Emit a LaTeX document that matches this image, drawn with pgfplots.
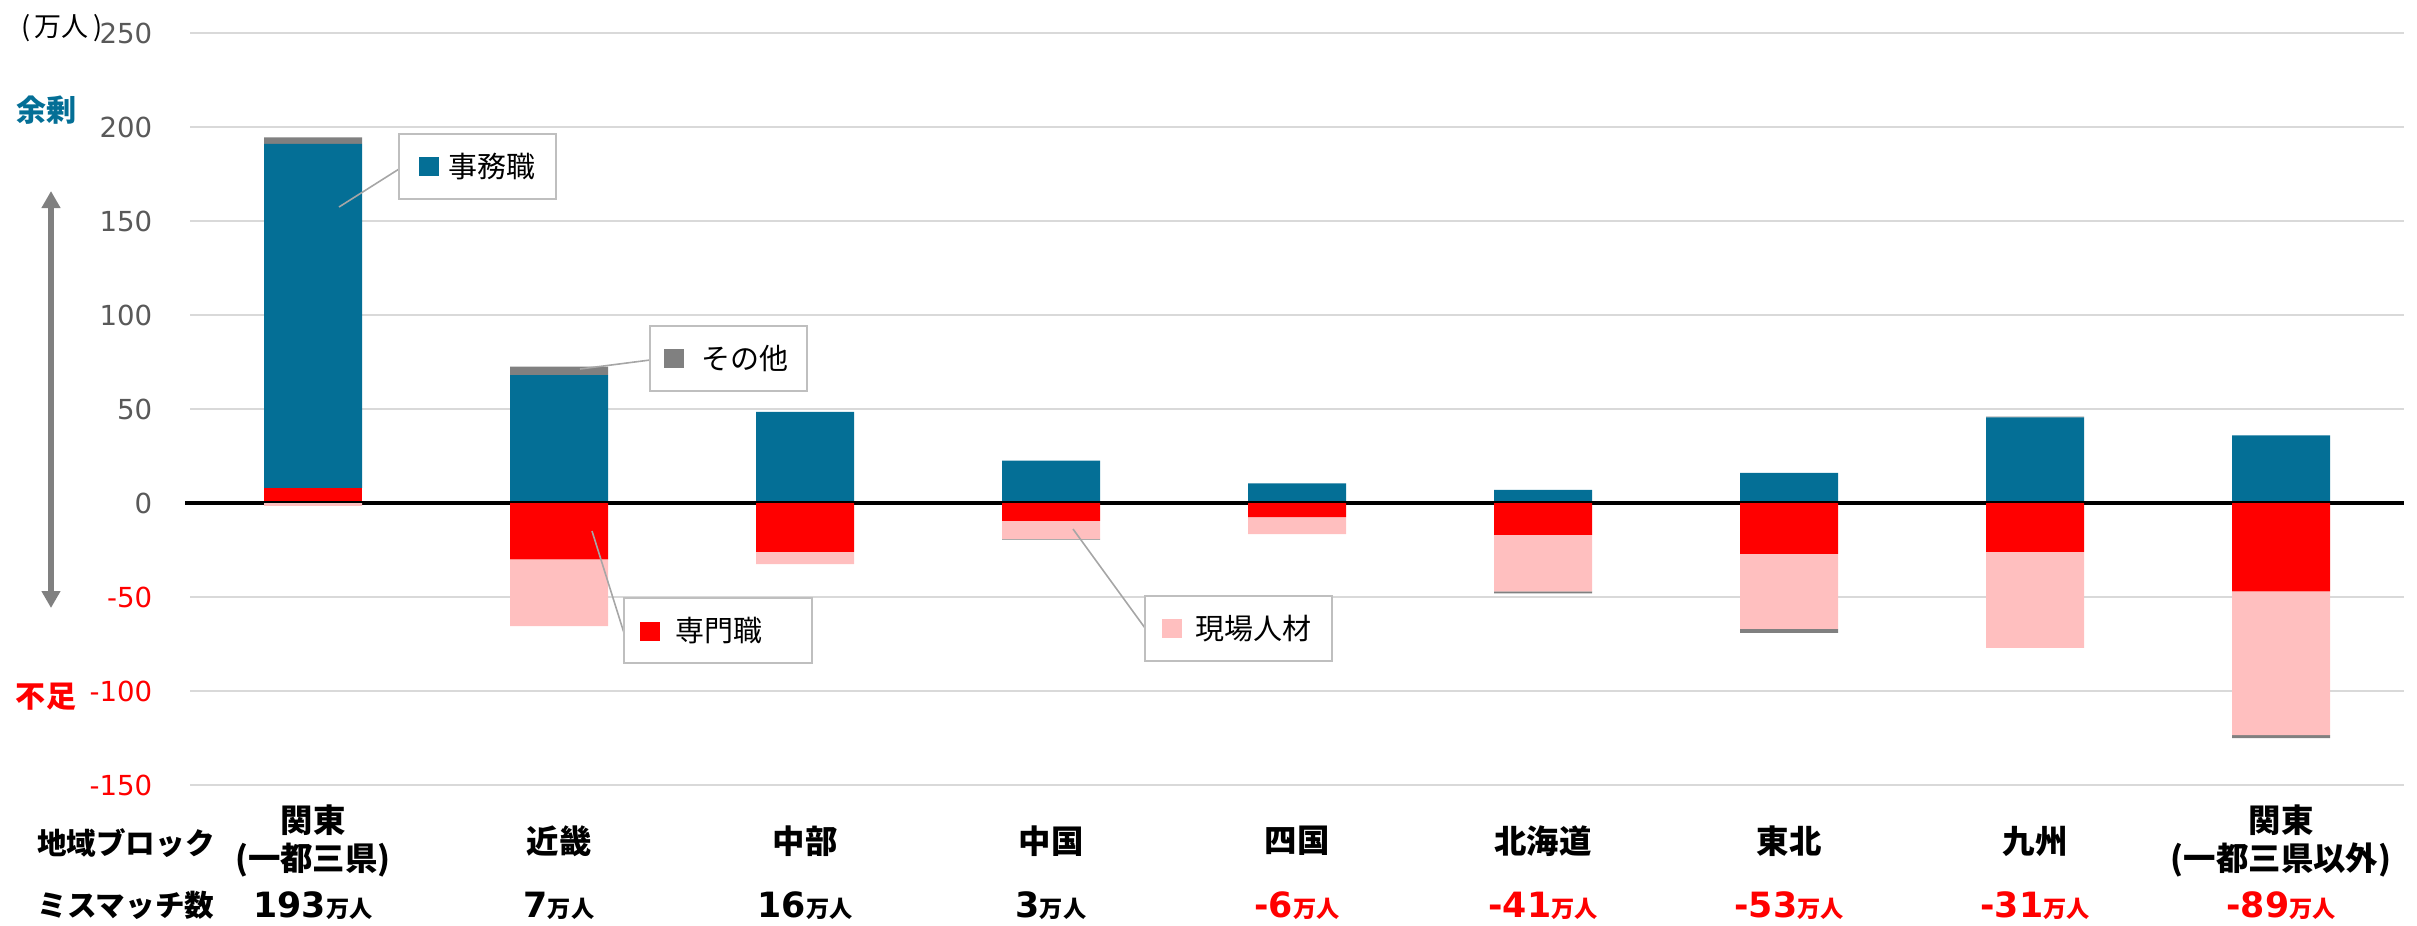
\documentclass[border=0pt]{standalone}
\usepackage{fontspec}
\usepackage{pgfplots}
\pgfplotsset{compat=1.18}
\usetikzlibrary{arrows.meta}
\setmainfont{DejaVu Sans}
\newfontfamily\cjk{Noto Sans CJK JP}
\newfontfamily\dv{DejaVu Sans}
\definecolor{blu}{HTML}{046F96}
\definecolor{rd}{HTML}{FF0000}
\definecolor{pk}{HTML}{FFBFBF}
\definecolor{gr}{HTML}{808080}
\definecolor{gridc}{HTML}{D9D9D9}
\definecolor{tickc}{HTML}{595959}
\definecolor{bx}{HTML}{BFBFBF}
\definecolor{ld}{HTML}{A6A6A6}
\newcommand\mm[2][black]{\textcolor{#1}{{\dv\bfseries\fontsize{8.7}{10}\selectfont #2}{\cjk\bfseries\fontsize{5.8}{7}\selectfont 万人}}}
\pgfplotsset{base/.style={at={(47.5pt,-196.25pt)},anchor=south west,scale only axis,
  width=553.5pt,height=188pt,xmin=-0.5,xmax=8.5,ymin=-150,ymax=250,
  ybar stacked,bar width=24.5pt,clip=false}}
\begin{document}
\begin{tikzpicture}
% positive stack, grid and labels
\begin{axis}[base, axis line style={draw=none}, major tick length=0pt,
  ytick={-150,-100,...,250},
  yticklabels={{\color{rd}-150},{\color{rd}-100},{\color{rd}-50},0,50,100,150,200,250},
  yticklabel style={anchor=east,inner sep=0pt,xshift=-9.25pt,font=\dv\fontsize{6.9}{8}\selectfont,text=tickc},
  ymajorgrids, grid style={draw=gridc,line width=0.4pt},
  xtick={0,...,8},
  xticklabels={{関東\\(一都三県)},近畿,中部,中国,四国,北海道,東北,九州,{関東\\(一都三県以外)}},
  xticklabel style={anchor=center,align=center,yshift=-14pt,inner sep=0pt,font=\cjk\bfseries\fontsize{8.1}{9.5}\selectfont},
  extra x ticks={0,...,8},
  extra x tick labels={{\mm{193}},{\mm{7}},{\mm{16}},{\mm{3}},{\mm[rd]{-6}},{\mm[rd]{-41}},{\mm[rd]{-53}},{\mm[rd]{-31}},{\mm[rd]{-89}}},
  extra x tick style={grid=none,xticklabel style={yshift=-16.25pt}},
]
% 専門職 (positive part)
\addplot[fill=rd,draw=none] coordinates {(0,8) (1,0) (2,0) (3,0) (4,0) (5,0) (6,0) (7,0) (8,0)};
% 事務職
\addplot[fill=blu,draw=none] coordinates {(0,183) (1,68) (2,48.5) (3,22.5) (4,10.5) (5,7) (6,16) (7,45.5) (8,36)};
% その他 (positive part)
\addplot[fill=gr,draw=none] coordinates {(0,3.5) (1,4.5) (2,0) (3,0) (4,0) (5,0) (6,0) (7,0.5) (8,0)};
\end{axis}
% negative stack
\begin{axis}[base, hide axis]
% 専門職
\addplot[fill=rd,draw=none] coordinates {(0,0) (1,-30) (2,-26) (3,-9.5) (4,-7.5) (5,-17) (6,-27) (7,-26) (8,-47)};
% 現場人材
\addplot[fill=pk,draw=none] coordinates {(0,-1.5) (1,-35.5) (2,-6.5) (3,-9.5) (4,-9) (5,-30) (6,-40) (7,-51) (8,-76.5)};
% その他 (negative part)
\addplot[fill=gr,draw=none] coordinates {(0,0) (1,0) (2,0) (3,-0.5) (4,0) (5,-1) (6,-2) (7,0) (8,-1.5)};
\draw[black,line width=1pt] (axis cs:-0.52,0) -- (axis cs:8.5,0);
\end{axis}
\begin{scope}[x=0.25pt,y=-0.25pt]
\node[text=blu,font=\cjk\bfseries\fontsize{7.5}{9}\selectfont] at (47,110) {余剰};
\node[text=rd,font=\cjk\bfseries\fontsize{7.5}{9}\selectfont] at (46,697) {不足};
\node[font=\cjk\fontsize{6.75}{8}\selectfont] at (62,28) {(\,万人\,)};
\draw[gr,line width=1.5pt,{Triangle[width=4.5pt,length=4.25pt]}-{Triangle[width=4.5pt,length=4.25pt]}] (51,191) -- (51,608);
\node[font=\cjk\bfseries\fontsize{7.4}{9}\selectfont] at (126,843) {地域ブロック};
\node[font=\cjk\bfseries\fontsize{7.4}{9}\selectfont] at (126,905) {ミスマッチ数};
% callout 事務職
\draw[ld,line width=0.4pt] (339,207) -- (399,169);
\draw[bx,line width=0.5pt,fill=white] (399,134) rectangle (556,199);
\fill[blu] (419,157) rectangle (439,176);
\node[anchor=west,inner sep=0pt,font=\cjk\fontsize{7.25}{8}\selectfont] at (448,166) {事務職};
% callout その他
\draw[ld,line width=0.4pt] (580,369) -- (650,360);
\draw[bx,line width=0.5pt,fill=white] (650,326) rectangle (807,391);
\fill[gr] (664,349) rectangle (684,368);
\node[anchor=west,inner sep=0pt,font=\cjk\fontsize{7.25}{8}\selectfont] at (701,358) {その他};
% callout 専門職
\draw[ld,line width=0.4pt] (592,531) -- (624,633);
\draw[bx,line width=0.5pt,fill=white] (624,598) rectangle (812,663);
\fill[rd] (640,622) rectangle (660,641);
\node[anchor=west,inner sep=0pt,font=\cjk\fontsize{7.25}{8}\selectfont] at (675,631) {専門職};
% callout 現場人材
\draw[ld,line width=0.4pt] (1073,529) -- (1145,628);
\draw[bx,line width=0.5pt,fill=white] (1145,596) rectangle (1332,661);
\fill[pk] (1162,619) rectangle (1182,638);
\node[anchor=west,inner sep=0pt,font=\cjk\fontsize{7.25}{8}\selectfont] at (1195,629) {現場人材};
\pgfresetboundingbox
\path[use as bounding box] (0,0) rectangle (2417,925);
\end{scope}
\end{tikzpicture}
\end{document}
